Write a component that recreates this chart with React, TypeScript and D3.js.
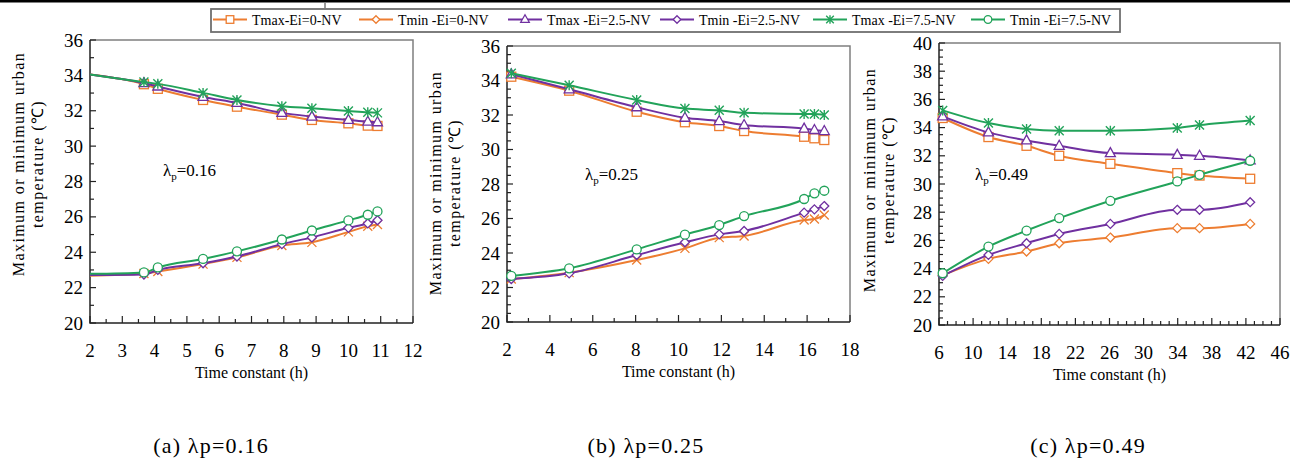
import React from "react";
import * as d3 from "d3";

// colours of the three Ei groups
const ORANGE = "#ED7D31";
const PURPLE = "#7030A0";
const GREEN = "#22A35A";

// legend
const seriesNames = [
  "Tmax-Ei=0-NV",
  "Tmin -Ei=0-NV",
  "Tmax -Ei=2.5-NV",
  "Tmin -Ei=2.5-NV",
  "Tmax -Ei=7.5-NV",
  "Tmin -Ei=7.5-NV",
];
const seriesColors = [ORANGE, ORANGE, PURPLE, PURPLE, GREEN, GREEN];
const seriesMarkers = ["square", "diamond", "triangle", "diamond", "star", "circle"];

// (a) λp = 0.16
const xA = [2, 3.67, 4.1, 5.5, 6.55, 7.94, 8.87, 10.0, 10.6, 10.9];
const tmax0A = [34.05, 33.5, 33.24, 32.61, 32.23, 31.78, 31.48, 31.29, 31.16, 31.14];
const tmin0A = [22.67, 22.8, 22.91, 23.33, 23.71, 24.38, 24.56, 25.15, 25.47, 25.57];
const tmax25A = [34.05, 33.56, 33.37, 32.78, 32.44, 31.88, 31.67, 31.48, 31.38, 31.35];
const tmin25A = [22.71, 22.74, 23.0, 23.38, 23.76, 24.46, 24.84, 25.38, 25.63, 25.81];
const tmax75A = [34.05, 33.62, 33.52, 33.01, 32.61, 32.26, 32.14, 31.99, 31.91, 31.88];
const tmin75A = [22.78, 22.86, 23.14, 23.62, 24.05, 24.72, 25.23, 25.8, 26.12, 26.31];

// (b) λp = 0.25
const xB = [2.2, 4.9, 8.05, 10.3, 11.9, 13.06, 15.86, 16.34, 16.8];
const tmax0B = [34.22, 33.41, 32.19, 31.58, 31.36, 31.07, 30.74, 30.65, 30.55];
const tmin0B = [22.49, 22.86, 23.59, 24.27, 24.89, 24.99, 25.91, 25.97, 26.2];
const tmax25B = [34.36, 33.49, 32.45, 31.84, 31.65, 31.42, 31.21, 31.13, 31.07];
const tmin25B = [22.49, 22.82, 23.88, 24.62, 25.08, 25.28, 26.34, 26.53, 26.72];
const tmax75B = [34.42, 33.72, 32.87, 32.37, 32.27, 32.13, 32.06, 32.06, 32.0];
const tmin75B = [22.67, 23.11, 24.21, 25.06, 25.62, 26.14, 27.13, 27.46, 27.61];

// (c) λp = 0.49
const xC = [6.43, 11.8, 16.27, 20.1, 26.1, 33.95, 36.56, 42.5];
const tmax0C = [34.68, 33.33, 32.71, 32.0, 31.43, 30.77, 30.6, 30.37];
const tmin0C = [23.53, 24.69, 25.21, 25.8, 26.2, 26.87, 26.87, 27.17];
const tmax25C = [34.8, 33.66, 33.09, 32.71, 32.19, 32.07, 32.0, 31.67];
const tmin25C = [23.48, 24.97, 25.8, 26.46, 27.17, 28.17, 28.17, 28.71];
const tmax75C = [35.22, 34.32, 33.9, 33.78, 33.78, 33.97, 34.18, 34.51];
const tmin75C = [23.67, 25.56, 26.7, 27.58, 28.81, 30.18, 30.65, 31.65];

const panels = [
  {
    box: { left: 90, right: 413, top: 40, bottom: 323 },
    xDomain: [2, 12], xStep: 1, xMinor: 0.5,
    yDomain: [20, 36], yMinor: 1,
    x: xA,
    series: [tmax0A, tmin0A, tmax25A, tmin25A, tmax75A, tmin75A],
    markers: ["square", "x", "triangle", "diamond", "star", "circle"],
    hideFirst: true,
    lambda: "0.16", lambdaPos: [163, 176],
    titleX: 18, titleY: 164, caption: "(a) λp=0.16", captionX: 211,
  },
  {
    box: { left: 507, right: 850, top: 46, bottom: 322 },
    xDomain: [2, 18], xStep: 2, xMinor: 1,
    yDomain: [20, 36], yMinor: 0.5,
    x: xB,
    series: [tmax0B, tmin0B, tmax25B, tmin25B, tmax75B, tmin75B],
    markers: ["square", "x", "triangle", "diamond", "star", "circle"],
    hideFirst: false,
    lambda: "0.25", lambdaPos: [585, 180],
    titleX: 435, titleY: 183, caption: "(b) λp=0.25", captionX: 646,
  },
  {
    box: { left: 939, right: 1280, top: 43, bottom: 325 },
    xDomain: [6, 46], xStep: 4, xMinor: 1,
    yDomain: [20, 40], yMinor: 0.5,
    x: xC,
    series: [tmax0C, tmin0C, tmax25C, tmin25C, tmax75C, tmin75C],
    markers: ["square", "diamond", "triangle", "diamond", "star", "circle"],
    hideFirst: false,
    lambda: "0.49", lambdaPos: [975, 180],
    titleX: 869, titleY: 180, caption: "(c) λp=0.49", captionX: 1088,
  },
];

const SERIF = "Liberation Serif, Times New Roman, serif";

function Marker({ type, x, y, color, s = 4.5 }) {
  const common = { fill: "white", stroke: color, strokeWidth: 1.3 };
  if (type === "square")
    return <rect x={x - s} y={y - s} width={2 * s} height={2 * s} {...common} />;
  if (type === "circle") return <circle cx={x} cy={y} r={s} {...common} />;
  if (type === "diamond")
    return <path d={`M${x},${y - s}L${x + s},${y}L${x},${y + s}L${x - s},${y}Z`} {...common} />;
  if (type === "triangle")
    return <path d={`M${x},${y - s - 1}L${x + s + 0.5},${y + s - 1}L${x - s - 0.5},${y + s - 1}Z`} {...common} />;
  if (type === "x")
    return <path d={`M${x - s},${y - s}L${x + s},${y + s}M${x - s},${y + s}L${x + s},${y - s}`} fill="none" stroke={color} strokeWidth={1.3} />;
  // asterisk
  return (
    <path
      d={`M${x - s},${y - s}L${x + s},${y + s}M${x - s},${y + s}L${x + s},${y - s}M${x},${y - s - 0.5}L${x},${y + s + 0.5}`}
      fill="none" stroke={color} strokeWidth={1.4}
    />
  );
}

function Panel({ p }) {
  const { left, right, top, bottom } = p.box;
  const x = d3.scaleLinear().domain(p.xDomain).range([left, right]);
  const y = d3.scaleLinear().domain(p.yDomain).range([bottom, top]);
  const line = d3.line().x((d) => x(d[0])).y((d) => y(d[1])).curve(d3.curveMonotoneX);

  const xMajor = d3.range(p.xDomain[0], p.xDomain[1] + 1e-9, p.xStep);
  const xMinor = d3.range(p.xDomain[0], p.xDomain[1] + 1e-9, p.xMinor);
  const yMajor = d3.range(p.yDomain[0], p.yDomain[1] + 1e-9, 2);
  const yMinor = d3.range(p.yDomain[0], p.yDomain[1] + 1e-9, p.yMinor);

  return (
    <g>
      {/* frame */}
      <path d={`M${left},${top}H${right}V${bottom}`} fill="none" stroke="#7f7f7f" strokeWidth={1.5} />
      <path d={`M${left},${top}V${bottom}H${right}`} fill="none" stroke="#222" strokeWidth={1.5} />

      {yMinor.map((v) => (
        <line key={"ym" + v} x1={left} x2={left + (v % 2 === 0 ? 6 : 4)} y1={y(v)} y2={y(v)} stroke="#222" strokeWidth={1.2} />
      ))}
      {xMinor.map((v) => (
        <line key={"xm" + v} x1={x(v)} x2={x(v)} y1={bottom} y2={bottom - (Math.abs((v - p.xDomain[0]) % p.xStep) < 1e-9 ? 7 : 4)} stroke="#222" strokeWidth={1.2} />
      ))}

      {yMajor.map((v) => (
        <text key={"yl" + v} x={left - 7} y={y(v)} textAnchor="end" dominantBaseline="central" fontFamily={SERIF} fontSize={19}>
          {v}
        </text>
      ))}
      {xMajor.map((v) => (
        <text key={"xl" + v} x={x(v)} y={bottom + 27} textAnchor="middle" dominantBaseline="central" fontFamily={SERIF} fontSize={19}>
          {v}
        </text>
      ))}

      <text x={(left + right) / 2} y={bottom + 49} textAnchor="middle" dominantBaseline="central" fontFamily={SERIF} fontSize={16}>
        Time constant (h)
      </text>

      <text transform={`translate(${p.titleX},${p.titleY}) rotate(-90)`} textAnchor="middle" dominantBaseline="central" fontFamily={SERIF} fontSize={16} letterSpacing={1.4}>
        Maximum or minimum urban
      </text>
      <text transform={`translate(${p.titleX + 19},${p.titleY}) rotate(-90)`} textAnchor="middle" dominantBaseline="central" fontFamily={SERIF} fontSize={16} letterSpacing={1.4}>
        temperature  (℃)
      </text>

      <text x={p.lambdaPos[0]} y={p.lambdaPos[1]} fontFamily={SERIF} fontSize={17}>
        λ<tspan dy={4} fontSize={11}>p</tspan>
        <tspan dy={-4}>={p.lambda}</tspan>
      </text>

      {p.series.map((vals, i) => {
        const pts = p.x.map((xv, j) => [xv, vals[j]]);
        return (
          <g key={"s" + i}>
            <path d={line(pts)} fill="none" stroke={seriesColors[i]} strokeWidth={2} />
            {pts.map((d, j) =>
              p.hideFirst && j === 0 ? null : (
                <Marker key={j} type={p.markers[i]} x={x(d[0])} y={y(d[1])} color={seriesColors[i]} />
              )
            )}
          </g>
        );
      })}

      <text x={p.captionX} y={445} textAnchor="middle" dominantBaseline="central" fontFamily={SERIF} fontSize={22} letterSpacing={1.2}>
        {p.caption}
      </text>
    </g>
  );
}

const legendX = [213, 359, 508, 660, 813, 971];

export default function App() {
  return (
    <svg width={1304} height={466} style={{ position: "absolute", left: 0, top: 0, background: "#fff" }}>
      <rect x={0} y={0} width={1290} height={2.5} fill="#000" />
      <line x1={325} x2={325} y1={3} y2={8} stroke="#333" strokeWidth={1} />

      {panels.map((p, i) => (
        <Panel key={i} p={p} />
      ))}

      {/* legend */}
      <rect x={211} y={9} width={909} height={23} fill="white" stroke="#6f6f6f" strokeWidth={1.8} />
      {seriesNames.map((name, i) => {
        const lx = legendX[i];
        return (
          <g key={name}>
            <line x1={lx} x2={lx + 34} y1={19.5} y2={19.5} stroke={seriesColors[i]} strokeWidth={1.8} />
            <Marker type={seriesMarkers[i]} x={lx + 17} y={19.5} color={seriesColors[i]} s={3.8} />
            <text x={lx + 39} y={20} dominantBaseline="central" fontFamily={SERIF} fontSize={14}>
              {name}
            </text>
          </g>
        );
      })}
    </svg>
  );
}
